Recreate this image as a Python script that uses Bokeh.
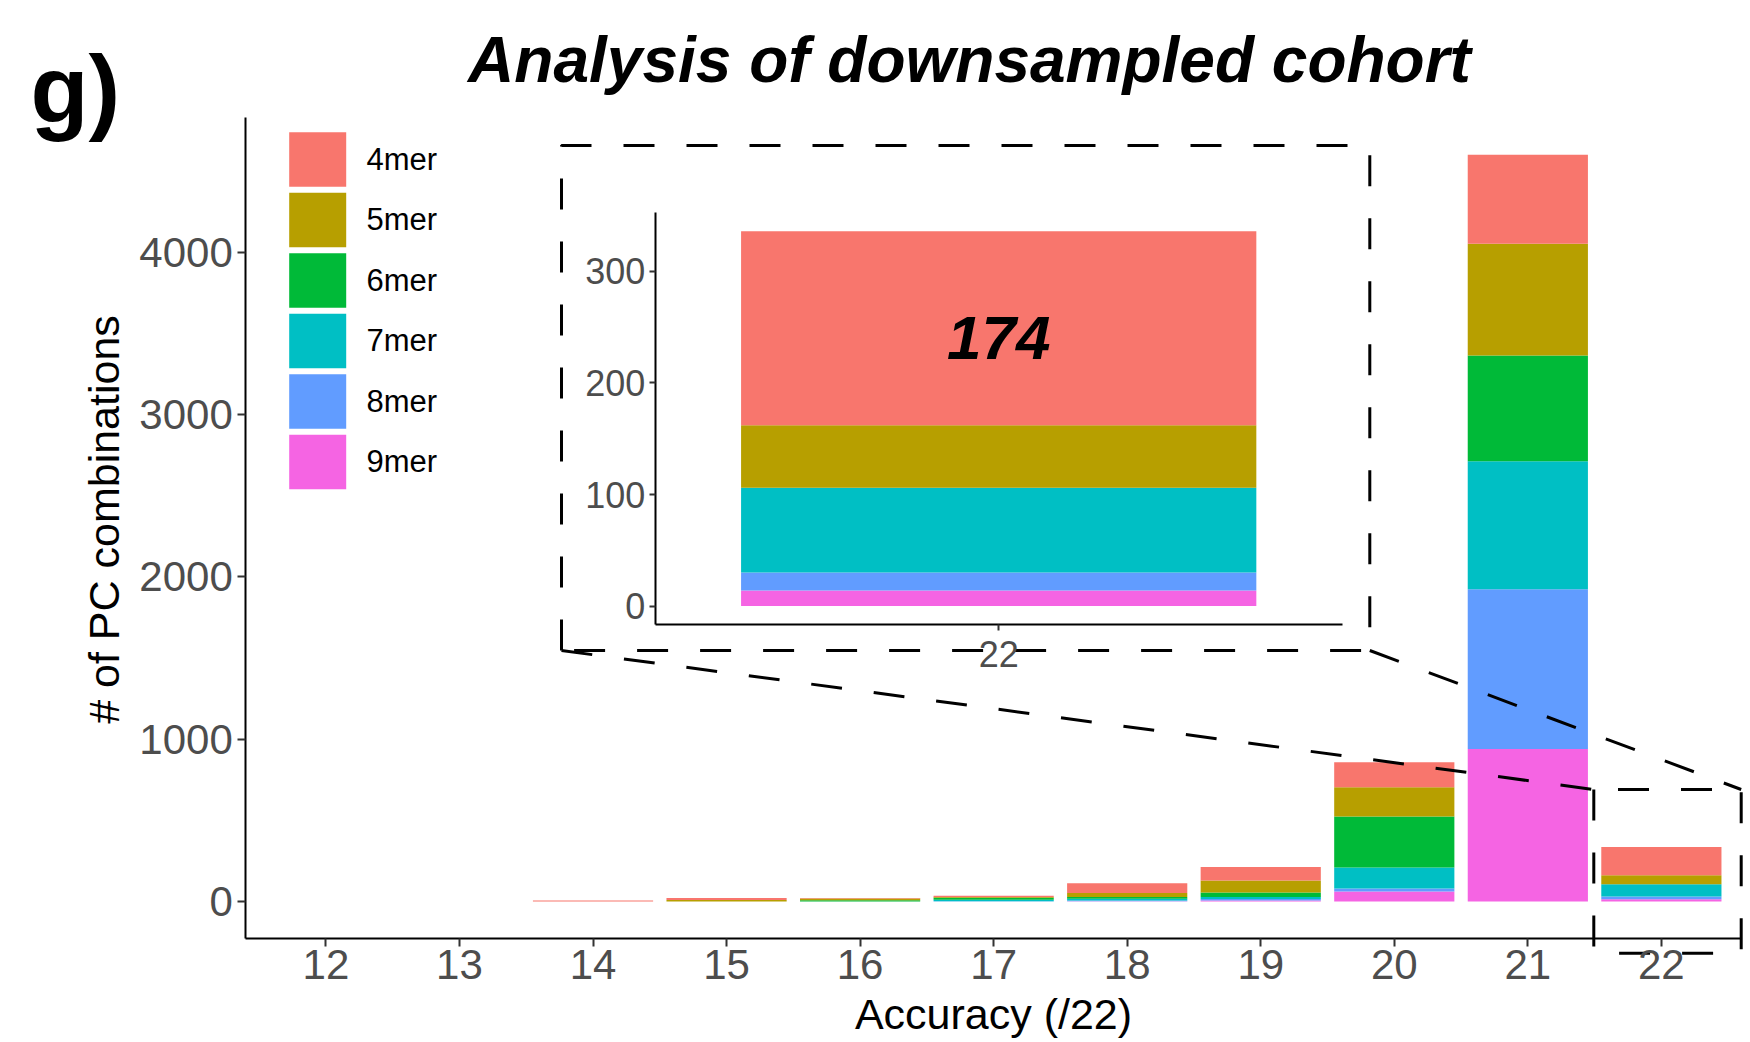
import math
from bokeh.plotting import figure
from bokeh.models import Range1d, LinearAxis, FixedTicker, ColumnDataSource
from bokeh.embed import file_html
from bokeh.resources import INLINE
from bokeh.core.properties import value

# ---------------- data ----------------
accuracy = [12, 13, 14, 15, 16, 17, 18, 19, 20, 21, 22]
kmers = ["4mer", "5mer", "6mer", "7mer", "8mer", "9mer"]
kmer_colors = ["#F8766D", "#B79F00", "#00BA38", "#00BFC4", "#619CFF", "#F564E3"]
n_4mer = [0, 0, 6, 12, 3, 8, 61, 83, 154, 548, 174]
n_5mer = [0, 0, 0, 9, 10, 4, 25, 74, 181, 689, 56]
n_6mer = [0, 0, 0, 0, 8, 13, 10, 28, 314, 652, 0]
n_7mer = [0, 0, 0, 0, 0, 9, 11, 12, 129, 788, 76]
n_8mer = [0, 0, 0, 0, 0, 1, 5, 9, 18, 984, 16]
n_9mer = [0, 0, 0, 0, 0, 0, 1, 6, 62, 940, 14]
y_ticks = [0, 1000, 2000, 3000, 4000]
inset_ticks = [0, 100, 200, 300]
inset_category = 22

title_text = "Analysis of downsampled cohort"
panel_tag = "g)"
x_title = "Accuracy (/22)"
y_title = "# of PC combinations"

series = {"4mer": n_4mer, "5mer": n_5mer, "6mer": n_6mer,
          "7mer": n_7mer, "8mer": n_8mer, "9mer": n_9mer}

# ---------------- geometry helpers ----------------
W, H = 1750, 1042
FONT = "Liberation Sans"


def span_range(v0, p0, v1, p1, size):
    s = (p1 - p0) / (v1 - v0)
    return Range1d(start=v0 - p0 / s, end=v0 + (size - p0) / s)


totals = [sum(series[k][i] for k in kmers) for i in range(len(accuracy))]
y_max = max(totals)
y_lo, y_hi = -0.05 * y_max, 1.05 * y_max
x_lo, x_hi = min(accuracy) - 0.6, max(accuracy) + 0.6

i_in = accuracy.index(inset_category)
in_total = totals[i_in]
iy_lo, iy_hi = -0.05 * in_total, 1.05 * in_total
ix_lo, ix_hi = 0.4, 1.6

main_x = span_range(x_lo, 245.3, x_hi, 1741, W)
main_y = span_range(y_lo, H - 938.3, y_hi, H - 117, H)
inset_x = span_range(ix_lo, 654.7, ix_hi, 1341.7, W)
inset_y = span_range(iy_lo, H - 624.3, iy_hi, H - 212, H)

p = figure(width=W, height=H, x_range=main_x, y_range=main_y,
           x_axis_type=None, y_axis_type=None, output_backend="svg",
           toolbar_location=None, min_border=0, title=None)
p.min_border_left = p.min_border_right = p.min_border_top = p.min_border_bottom = 0
p.outline_line_color = None
p.background_fill_color = "white"
p.border_fill_color = "white"
p.extra_x_ranges = {"ix": inset_x, "px": Range1d(0, W)}
p.extra_y_ranges = {"iy": inset_y, "px": Range1d(H, 0)}

# ---------------- main stacked bars ----------------
stack_order = list(reversed(kmers))          # 9mer at the bottom
color_order = list(reversed(kmer_colors))
src = ColumnDataSource(dict(x=accuracy, **{k: series[k] for k in kmers}))
p.vbar_stack(stack_order, x="x", width=0.9, color=color_order,
             line_color=None, source=src)

# ---------------- inset bars ----------------
isrc = ColumnDataSource(dict(x=[1], **{k: [series[k][i_in]] for k in kmers}))
p.vbar_stack(stack_order, x="x", width=0.9, color=color_order,
             line_color=None, source=isrc,
             x_range_name="ix", y_range_name="iy")
p.text(x=[1], y=[240], text=[str(n_4mer[i_in])],
       x_range_name="ix", y_range_name="iy",
       text_font=value(FONT), text_font_style="bold italic",
       text_font_size="62px", text_align="center",
       text_baseline="middle", text_color="black")


# ---------------- axes ----------------
def style_axis(ax, label_px, tick_out):
    ax.axis_line_color = "black"
    ax.axis_line_width = 2
    ax.major_tick_line_color = "#333333"
    ax.major_tick_line_width = 2
    ax.major_tick_out = tick_out
    ax.major_tick_in = 0
    ax.minor_tick_line_color = None
    ax.major_label_text_font = FONT
    ax.major_label_text_font_size = label_px
    ax.major_label_text_color = "#4D4D4D"
    ax.axis_label_text_font = FONT
    ax.axis_label_text_font_size = "43px"
    ax.axis_label_text_font_style = "normal"
    ax.axis_label_text_color = "black"


xax = LinearAxis(ticker=FixedTicker(ticks=accuracy), fixed_location=y_lo,
                 bounds=(x_lo, x_hi), axis_label=x_title)
style_axis(xax, "42px", 8)
xax.major_label_standoff = 3
xax.axis_label_standoff = 8
p.add_layout(xax, "below")

yax = LinearAxis(ticker=FixedTicker(ticks=y_ticks), fixed_location=x_lo,
                 bounds=(y_lo, y_hi))
style_axis(yax, "42px", 8)
yax.major_label_standoff = 5
p.add_layout(yax, "left")

ixax = LinearAxis(x_range_name="ix", y_range_name="iy",
                  ticker=FixedTicker(ticks=[1]),
                  major_label_overrides={1: str(inset_category)},
                  fixed_location=iy_lo, bounds=(ix_lo, ix_hi))
style_axis(ixax, "36px", 6)
ixax.major_label_standoff = 10
p.add_layout(ixax, "below")

iyax = LinearAxis(x_range_name="ix", y_range_name="iy",
                  ticker=FixedTicker(ticks=inset_ticks),
                  fixed_location=ix_lo, bounds=(iy_lo, iy_hi))
style_axis(iyax, "36px", 6)
iyax.major_label_standoff = 4
p.add_layout(iyax, "left")

# y-axis title (placed as rotated text)
p.text(x=[103], y=[519], text=[y_title], angle=math.pi / 2,
       text_font=value(FONT), text_font_size="43px",
       text_align="center", text_baseline="middle", text_color="black",
       x_range_name="px", y_range_name="px")

# ---------------- zoom indicators (dashed) ----------------
dash = dict(line_color="black", line_width=3, line_dash="31 32",
            x_range_name="px", y_range_name="px")
ins_l, ins_t, ins_r, ins_b = 561, 145, 1369.3, 650
zm_l, zm_t, zm_r, zm_b = 1593.3, 789, 1740.7, 952.7
p.line([ins_l, ins_l, ins_r, ins_r, ins_l], [ins_b, ins_t, ins_t, ins_b, ins_b], **dash)
p.line([zm_l, zm_l, zm_r, zm_r, zm_l], [zm_t, zm_b, zm_b, zm_t, zm_t], **dash)
p.line([ins_l, zm_l], [ins_b, zm_t], **dash)
p.line([ins_r, zm_r], [ins_b, zm_t], **dash)

# ---------------- legend ----------------
key_l, key_r, key_t0, key_h, key_pitch = 288.7, 345.7, 131.7, 54.5, 60.5
key_tops = [key_t0 + i * key_pitch for i in range(len(kmers))]
p.quad(left=key_l, right=key_r, top=key_tops,
       bottom=[t + key_h for t in key_tops], fill_color=kmer_colors,
       line_color=None, x_range_name="px", y_range_name="px")
p.text(x=[366] * len(kmers), y=[t + key_h / 2 for t in key_tops], text=kmers,
       text_font=value(FONT), text_font_size="31px", text_baseline="middle",
       text_align="left", text_color="black",
       x_range_name="px", y_range_name="px")

# ---------------- titles ----------------
p.text(x=[969], y=[59], text=[title_text], text_font=value(FONT),
       text_font_style="bold italic", text_font_size="64px",
       text_align="center", text_baseline="middle", text_color="black",
       x_range_name="px", y_range_name="px")
p.text(x=[30], y=[88], text=[panel_tag], text_font=value(FONT),
       text_font_style="bold", text_font_size="95px",
       text_align="left", text_baseline="middle", text_color="black",
       x_range_name="px", y_range_name="px")

open("out.html", "w").write(file_html(p, INLINE))
